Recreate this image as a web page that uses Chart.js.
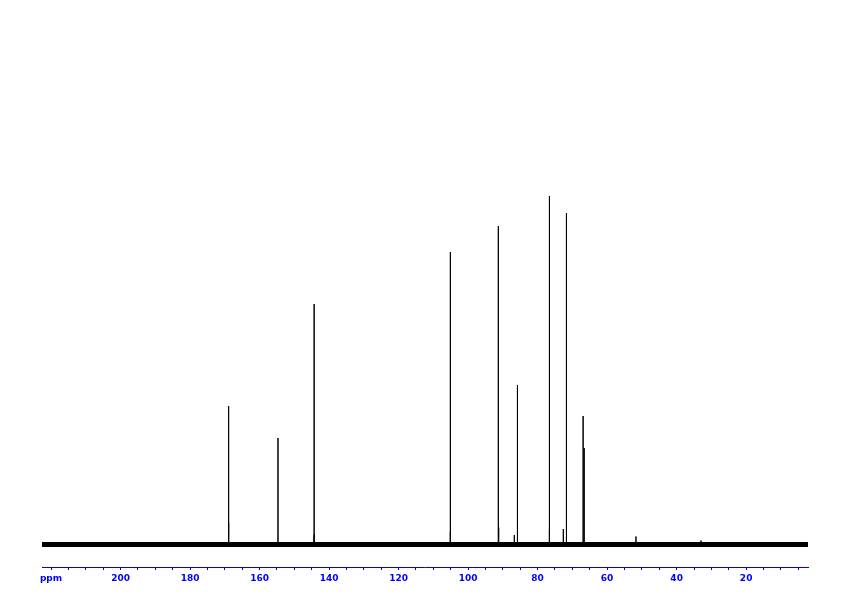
<!DOCTYPE html>
<html>
<head>
<meta charset="utf-8">
<script src="https://cdn.jsdelivr.net/npm/chart.js@4"></script>
<style>
  html,body{margin:0;padding:0;background:#fff;}
  #c{display:block;}
</style>
</head>
<body>
<canvas id="c" width="842" height="596"></canvas>
<script>
// 13C 스펙트럼 피크 (ppm / 상대 높이, 베이스라인=0)
const peakPpm    = [168.9, 168.9, 154.7, 144.3, 144.3, 105.1, 105.1, 91.3, 91.2, 86.7, 85.8, 76.6, 76.6, 72.6, 71.7, 66.9, 66.6, 51.7, 33.0];
const peakHeight = [138.5, 22,    106.5, 240.5, 10,    292.5, 13,    318.5, 17,   9.5,  159.5, 348.5, 15,   15.5, 331.5, 128.5, 96.5, 8,    4];

// 축 범위와 눈금 라벨
const ppmRange   = [2.2, 222.6];
const tickValues = [220, 200, 180, 160, 140, 120, 100, 80, 60, 40, 20];
const tickTexts  = ["ppm", "200", "180", "160", "140", "120", "100", "80", "60", "40", "20"];

const BLUE = "#0000ff";

const sticks = [];
peakPpm.forEach((p, i) => {
  sticks.push({x: p, y: 0}, {x: p, y: peakHeight[i]}, {x: p, y: 0}, {x: p, y: null});
});
const baseline = [{x: ppmRange[1], y: 0}, {x: ppmRange[0], y: 0}];

new Chart(document.getElementById("c").getContext("2d"), {
  type: "line",
  data: {
    datasets: [
      {data: baseline, borderColor: "#000", borderWidth: 5, pointRadius: 0},
      {data: sticks, borderColor: "#000", borderWidth: 1, pointRadius: 0, spanGaps: false}
    ]
  },
  options: {
    responsive: false,
    animation: false,
    parsing: false,
    layout: {padding: {left: 42, right: 34, top: 10, bottom: 0}},
    plugins: {legend: {display: false}, tooltip: {enabled: false}},
    elements: {line: {tension: 0}},
    scales: {
      x: {
        type: "linear",
        reverse: true,
        min: ppmRange[0],
        max: ppmRange[1],
        afterFit: s => { s.height = 29; },
        border: {color: BLUE, width: 1},
        grid: {drawOnChartArea: false, color: BLUE, tickLength: 3, tickWidth: 1},
        ticks: {
          stepSize: 5,
          includeBounds: false,
          autoSkip: false,
          maxRotation: 0,
          padding: 3,
          color: BLUE,
          font: {family: "DejaVu Sans", size: 9, weight: "bold"},
          callback: v => {
            const k = tickValues.indexOf(Math.round(v));
            return k >= 0 && Math.abs(v - tickValues[k]) < 0.01 ? tickTexts[k] : "";
          }
        }
      },
      y: {display: false, min: -22.5, max: 534.5}
    }
  }
});
</script>
</body>
</html>
